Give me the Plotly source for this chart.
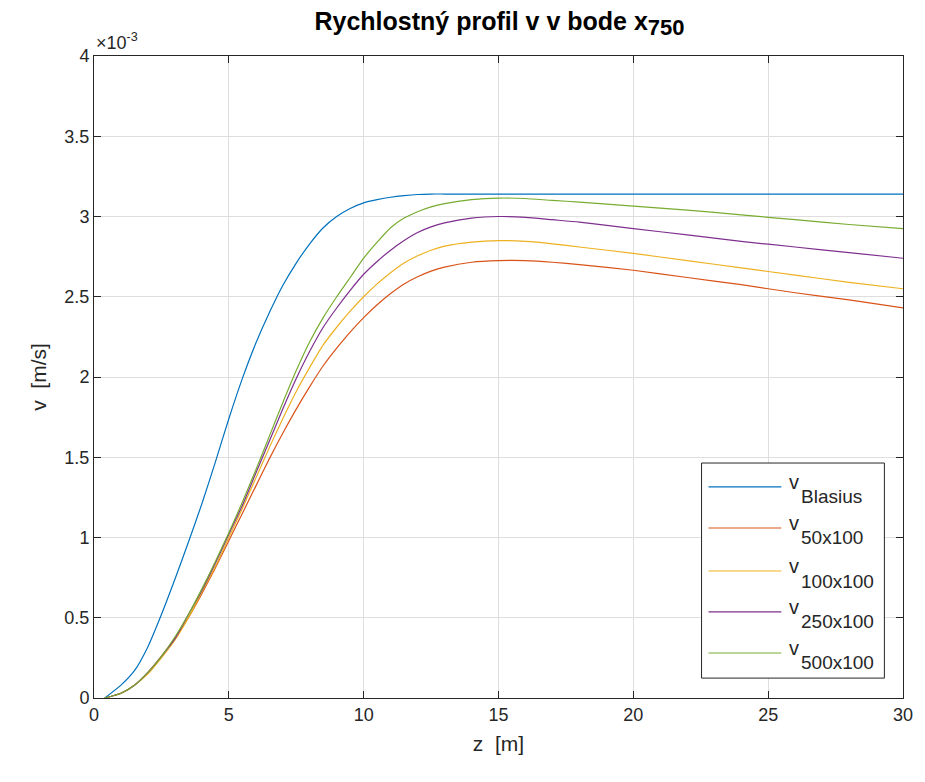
import plotly.graph_objects as go

# ---- data (v in units of 1e-3 m/s) ----
z = [0.4, 1.0, 1.5, 2.0, 2.5, 3.0, 3.5, 4.0, 4.5, 5.0, 5.5, 6.0, 6.5, 7.0, 7.5, 8.0,
     8.5, 9.0, 9.5, 10.0, 10.5, 11.0, 11.5, 12.0, 12.5, 13.0, 14.0, 15.0, 16.0, 17.0,
     18.0, 20.0, 22.0, 24.0, 26.0, 28.0, 30.0]

v_blasius = [0.0, 0.08, 0.17, 0.32, 0.52, 0.74, 0.97, 1.21, 1.47, 1.74, 1.99, 2.21, 2.40,
             2.57, 2.71, 2.83, 2.93, 3.00, 3.05, 3.085, 3.105, 3.12, 3.13, 3.137, 3.14,
             3.14, 3.14, 3.14, 3.14, 3.14, 3.14, 3.14, 3.14, 3.14, 3.14, 3.14, 3.14]
v_50x100 = [0.0, 0.03, 0.08, 0.16, 0.26, 0.37, 0.50, 0.65, 0.81, 0.98, 1.15, 1.32, 1.49,
            1.65, 1.80, 1.94, 2.07, 2.18, 2.28, 2.37, 2.45, 2.52, 2.58, 2.625, 2.66,
            2.685, 2.715, 2.725, 2.725, 2.715, 2.70, 2.665, 2.62, 2.575, 2.525, 2.48, 2.43]
v_100x100 = [0.0, 0.03, 0.08, 0.15, 0.25, 0.36, 0.50, 0.66, 0.82, 1.00, 1.18, 1.37, 1.56,
             1.74, 1.91, 2.06, 2.20, 2.31, 2.41, 2.50, 2.58, 2.65, 2.71, 2.755, 2.79,
             2.815, 2.84, 2.85, 2.845, 2.83, 2.81, 2.77, 2.725, 2.68, 2.635, 2.59, 2.55]
v_250x100 = [0.0, 0.03, 0.08, 0.16, 0.26, 0.37, 0.52, 0.67, 0.84, 1.02, 1.20, 1.40, 1.60,
             1.80, 1.99, 2.16, 2.31, 2.43, 2.54, 2.64, 2.72, 2.79, 2.85, 2.90, 2.935,
             2.96, 2.99, 3.00, 2.995, 2.98, 2.965, 2.925, 2.885, 2.845, 2.81, 2.775, 2.74]
v_500x100 = [0.0, 0.03, 0.08, 0.16, 0.26, 0.38, 0.52, 0.68, 0.85, 1.03, 1.22, 1.42, 1.63,
             1.84, 2.04, 2.22, 2.37, 2.50, 2.62, 2.74, 2.84, 2.93, 2.99, 3.03, 3.06,
             3.08, 3.105, 3.115, 3.112, 3.10, 3.09, 3.065, 3.04, 3.01, 2.98, 2.95, 2.925]

series_names = ["Blasius", "50x100", "100x100", "250x100", "500x100"]
series_values = [v_blasius, v_50x100, v_100x100, v_250x100, v_500x100]
colors = ["#0072BD", "#D95319", "#EDB120", "#7E2F8E", "#77AC30"]

x_ticks = [0, 5, 10, 15, 20, 25, 30]
y_ticks = [0, 0.5, 1, 1.5, 2, 2.5, 3, 3.5, 4]

FONT = "Liberation Sans, Arial, sans-serif"
TXT = "#262626"

fig = go.Figure()
for name, vals, col in zip(series_names, series_values, colors):
    fig.add_trace(go.Scatter(x=z, y=vals, mode="lines", name=name,
                             line=dict(color=col, width=1.2, shape="spline", smoothing=0.6),
                             showlegend=False))

axis_common = dict(showline=True, linecolor=TXT, linewidth=1, mirror="allticks",
                   ticks="inside", ticklen=7, tickcolor=TXT, showgrid=True,
                   gridcolor="#dedede", gridwidth=1, zeroline=False,
                   tickfont=dict(family=FONT, size=18, color=TXT))

fig.update_xaxes(range=[0, 30], tickvals=x_ticks, **axis_common,
                 title=dict(text="z\u00a0 [m]", font=dict(family=FONT, size=21, color=TXT),
                            standoff=12))
fig.update_yaxes(range=[0, 4], tickvals=y_ticks, **axis_common,
                 title=dict(text="v\u00a0 [m/s]", font=dict(family=FONT, size=21, color=TXT),
                            standoff=12))

# manual MATLAB-like legend
box = dict(x0=0.751, x1=0.977, y0=0.031, y1=0.366)
row_y = [0.3287, 0.2648, 0.1978, 0.134, 0.0701]
shapes = [dict(type="rect", xref="paper", yref="paper", line=dict(color=TXT, width=1),
               fillcolor="white", layer="above", **box)]
annotations = []
for name, col, ry in zip(series_names, colors, row_y):
    shapes.append(dict(type="line", xref="paper", yref="paper", x0=0.7596, x1=0.8496,
                       y0=ry, y1=ry, line=dict(color=col, width=1.2), layer="above"))
    annotations.append(dict(text="v", xref="paper", yref="paper", x=0.856, y=ry,
                            xanchor="left", yanchor="middle", yshift=5, showarrow=False,
                            font=dict(family=FONT, size=20, color=TXT)))
    annotations.append(dict(text=name, xref="paper", yref="paper", x=0.871, y=ry,
                            xanchor="left", yanchor="middle", yshift=-10, showarrow=False,
                            font=dict(family=FONT, size=19, color=TXT)))

annotations.append(dict(text="\u00d710<sup>-3</sup>", xref="paper", yref="paper", x=0.0,
                        y=1.0, xanchor="left", yanchor="bottom", yshift=1, showarrow=False,
                        font=dict(family=FONT, size=18, color=TXT)))

fig.update_layout(
    width=925, height=782,
    margin=dict(l=94, r=20, t=56, b=84),
    paper_bgcolor="white", plot_bgcolor="white",
    title=dict(text="<b>Rychlostný profil v v bode x<sub><span style='font-size:22px'>750</span></sub></b>",
               font=dict(family=FONT, size=25, color="black"),
               x=0.54, xanchor="center", y=0.973, yanchor="middle"),
    shapes=shapes, annotations=annotations,
)

fig.write_html("out.html")
